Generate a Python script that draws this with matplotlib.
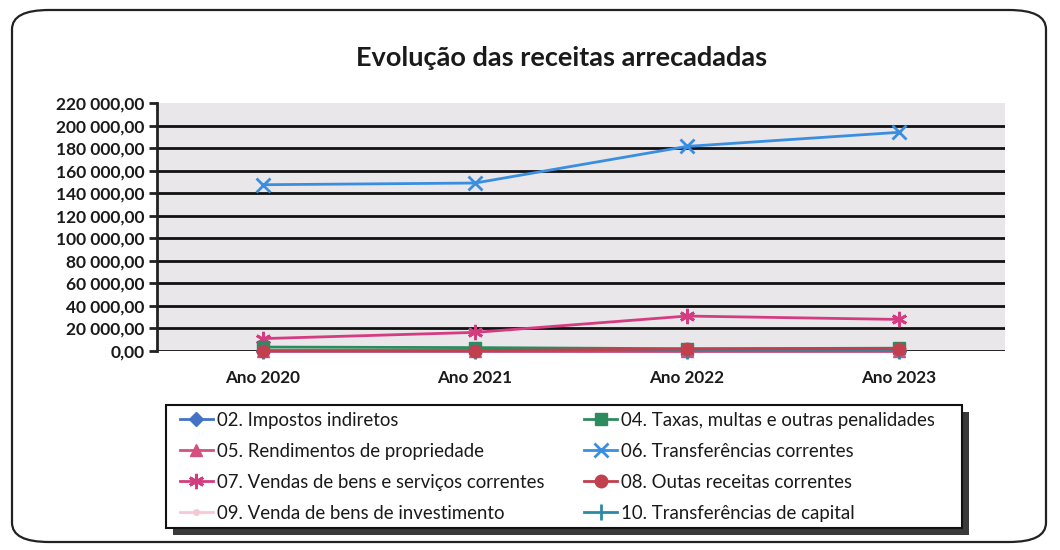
import matplotlib
matplotlib.use("Agg")
import matplotlib.pyplot as plt
from matplotlib.patches import FancyBboxPatch, Rectangle
from matplotlib.ticker import FuncFormatter

plt.rcParams['font.family'] = ['Lato', 'DejaVu Sans']

categories = ["Ano 2020", "Ano 2021", "Ano 2022", "Ano 2023"]
series_names = [
    "02. Impostos indiretos",
    "04. Taxas, multas e outras penalidades",
    "05. Rendimentos de propriedade",
    "06. Transferências correntes",
    "07. Vendas de bens e serviços correntes",
    "08. Outas receitas correntes",
    "09. Venda de bens de investimento",
    "10. Transferências de capital",
]
impostos = [0, 0, 0, 0]
taxas = [3500, 3000, 2000, 2500]
rendimentos = [0, 0, 0, 0]
transf_correntes = [147500, 149000, 181500, 194000]
vendas = [11000, 16500, 31000, 28000]
outras = [300, 400, 1800, 2000]
venda_invest = [0, 0, 0, 0]
transf_capital = [200, 200, 300, 300]
yticks = list(range(0, 220001, 20000))

values = [impostos, taxas, rendimentos, transf_correntes, vendas, outras, venda_invest, transf_capital]
colors = ["#4472c4", "#2e8b5e", "#d4507e", "#3a8ee0", "#d43c82", "#c2404e", "#f6c8d4", "#2b8aa3"]
markers = ["D", "s", "^", "x", (6, 2, 0), "o", "o", "|"]
msizes = [7, 8, 8, 10, 11, 9, 4, 12]

fig = plt.figure(figsize=(10.6, 5.5), dpi=100)
W, H = 1060, 550

# outer rounded frame
frame = FancyBboxPatch((12 / W, 8 / H), (1046 - 12) / W, (540 - 8) / H,
                       boxstyle="round,pad=0,rounding_size=0.035",
                       transform=fig.transFigure, facecolor="none",
                       edgecolor="#222222", linewidth=1.6, zorder=0)
fig.patches.append(frame)

# legend box with shadow
fig.patches.append(Rectangle((173 / W, 1 - 535 / H), (962 - 166) / W, (528 - 405) / H,
                             transform=fig.transFigure, facecolor="#3a3a3a",
                             edgecolor="none", zorder=1))
fig.patches.append(Rectangle((166 / W, 1 - 528 / H), (962 - 166) / W, (528 - 405) / H,
                             transform=fig.transFigure, facecolor="white",
                             edgecolor="#111111", linewidth=1.5, zorder=2))

ax = fig.add_axes([157 / W, 1 - 351 / H, (1005 - 157) / W, (351 - 103) / H])
ax.set_facecolor("#e9e7ea")
x = list(range(len(categories)))
order = [3, 4, 1, 2, 0, 6, 7, 5]
z = {3: 3, 4: 4, 1: 5, 2: 6, 0: 5, 6: 5, 7: 7, 5: 8}
lines = {}
for i in order:
    mk = markers[i]
    ln, = ax.plot(x, values[i], color=colors[i], marker=mk, markersize=msizes[i],
                  linewidth=2.0, markeredgewidth=2.0 if mk in ("x", "|") or isinstance(mk, tuple) else 1.0,
                  markeredgecolor=colors[i], label=series_names[i], zorder=z[i],
                  clip_on=False)
    lines[i] = ln

ax.set_xlim(-0.5, 3.5)
ax.set_ylim(0, 220000)
ax.set_yticks(yticks)
ax.yaxis.set_major_formatter(FuncFormatter(
    lambda v, p: "{:,.2f}".format(v).replace(",", " ").replace(".", ",")))
ax.set_xticks(x)
ax.set_xticklabels(categories)
ax.grid(False)
for yv in yticks[:-1]:
    ax.axhline(yv, color="#111111", linewidth=2.0, zorder=1)
for s in ["top", "right", "bottom"]:
    ax.spines[s].set_visible(False)
ax.spines["left"].set_color("#222222")
ax.spines["left"].set_linewidth(2.0)
ax.tick_params(axis="y", length=6, width=2, color="#222222", labelsize=12.5, pad=3)
ax.tick_params(axis="x", length=0, labelsize=12.3, pad=14)
for lab in ax.get_yticklabels() + ax.get_xticklabels():
    lab.set_fontweight("bold")
    lab.set_color("#1a1a1a")

fig.text(562 / W, 1 - 58 / H, "Evolução das receitas arrecadadas", ha="center", va="center",
         fontsize=19.5, fontweight="bold", color="#1a1a1a")

leg_order = [0, 2, 4, 6, 1, 3, 5, 7]
handles = [lines[i] for i in leg_order]
labels = [series_names[i] for i in leg_order]
leg = fig.legend(handles, labels, ncol=2, loc="upper left",
                 bbox_to_anchor=(180 / W, 1 - 412 / H),
                 frameon=False, fontsize=13.4, handlelength=1.77, handletextpad=0.2,
                 labelspacing=0.75, borderpad=0, borderaxespad=0,
                 columnspacing=2.15)
leg.set_zorder(5)
for t in leg.get_texts():
    t.set_color("#1a1a1a")

fig.savefig("out.png", dpi=100)
